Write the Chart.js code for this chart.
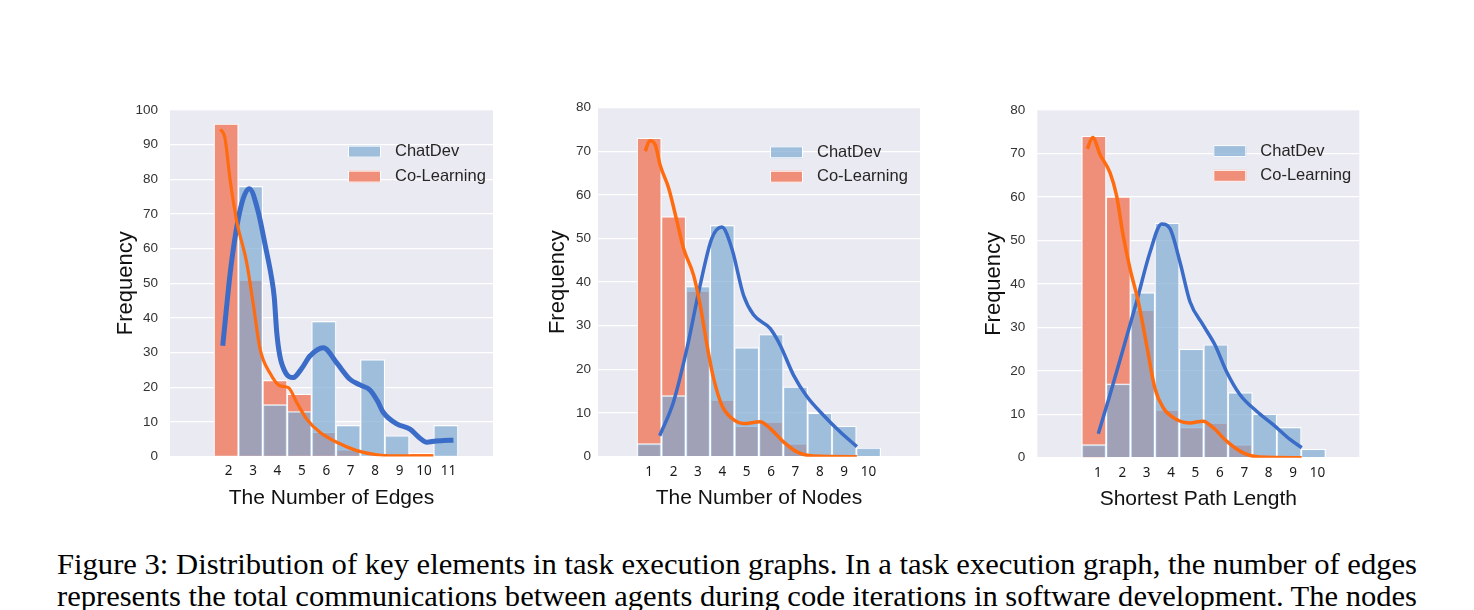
<!DOCTYPE html>
<html><head><meta charset="utf-8">
<script src="https://cdn.jsdelivr.net/npm/chart.js@4.4.0/dist/chart.umd.min.js"></script>
<style>
html,body{margin:0;padding:0;background:#fff;width:1474px;height:610px;overflow:hidden;position:relative;}
canvas{position:absolute;}
.cap{position:absolute;left:57px;font-family:'Liberation Serif','Times New Roman',serif;font-size:29px;line-height:29px;white-space:nowrap;color:#000;transform-origin:0 0;display:inline-block;}
</style></head><body>
<canvas id="c1" width="420" height="440" style="left:100px;top:90px;width:420px;height:440px"></canvas>
<canvas id="c2" width="420" height="440" style="left:530px;top:90px;width:420px;height:440px"></canvas>
<canvas id="c3" width="420" height="440" style="left:960px;top:90px;width:420px;height:440px"></canvas>
<div class="cap" id="cap1" style="top:550px">Figure 3: Distribution of key elements in task execution graphs. In a task execution graph, the number of edges</div>
<div class="cap" id="cap2" style="top:582px">represents the total communications between agents during code iterations in software development. The nodes</div>
<script>
// ---------------- DATA ----------------
const seriesNames = ['ChatDev', 'Co-Learning'];

// Panel 1: The Number of Edges
const edgesBins = [2, 3, 4, 5, 6, 7, 8, 9, 10, 11];
const edgesChatDev = [0, 78, 15, 13, 39, 9, 28, 6, 0, 9];
const edgesCoLearning = [96, 51, 22, 18, 7, 2, 0, 0, 1, 0];
const edgesChatDevKde = [[1.86,32],[2.2,55],[2.6,72],[2.95,77.3],[3.3,71],[3.6,61],[3.85,52],[3.97,46],[4.07,36],[4.2,29],[4.45,24],[4.75,22.8],[5.1,25.5],[5.43,29],[5.98,31.4],[6.53,27],[7.07,22.3],[7.5,20.6],[7.89,19.2],[8.2,16],[8.44,12.7],[8.99,9.4],[9.53,7.9],[9.9,5.5],[10.22,4.1],[10.6,4.5],[10.9,4.6],[11.31,4.7]];
const edgesCoLearningKde = [[1.77,94.5],[1.95,92],[2.16,80],[2.43,68],[2.84,56],[3.11,44],[3.39,31],[3.8,24],[4.2,20.4],[4.55,19.9],[4.89,15.6],[5.3,10.8],[5.84,7],[6.53,4.1],[7.35,1.7],[8.17,0.5],[8.99,0.2],[10.49,0.2]];

// Panel 2: The Number of Nodes
const nodesBins = [1, 2, 3, 4, 5, 6, 7, 8, 9, 10];
const nodesChatDev = [3, 14, 39, 53, 25, 28, 16, 10, 7, 2];
const nodesCoLearning = [73, 55, 38, 13, 7, 8, 3, 0, 0, 0];
const nodesChatDevKde = [[1.43,4.8],[2.0,12.6],[2.55,24.8],[3.09,39.3],[3.57,50],[3.98,52.6],[4.39,47.7],[4.87,37],[5.28,32.5],[5.96,29.4],[6.37,25.6],[6.92,18.7],[7.47,13.8],[8.15,9.5],[8.83,5.7],[9.52,2.3]];
const nodesCoLearningKde = [[0.84,70],[1.02,72.4],[1.25,71.4],[1.45,66.8],[1.8,61.5],[2.14,53.9],[2.41,47.7],[2.82,41.6],[3.09,34.8],[3.37,25.6],[3.64,18],[3.98,11.8],[4.39,8.8],[4.87,7.6],[5.55,8],[5.96,6.5],[6.51,3.4],[7.06,1.1],[7.74,0.15],[9.52,0]];

// Panel 3: Shortest Path Length
const pathBins = [1, 2, 3, 4, 5, 6, 7, 8, 9, 10];
const pathChatDev = [3, 17, 38, 54, 25, 26, 15, 10, 7, 2];
const pathCoLearning = [74, 60, 34, 11, 7, 8, 3, 0, 0, 0];
const pathChatDevKde = [[1.18,5.5],[1.66,14.5],[2.2,25],[2.75,35.9],[3.3,47.3],[3.78,53.8],[4.12,52.7],[4.53,45],[4.94,35.9],[5.48,30.5],[5.96,26],[6.44,19.8],[6.99,14.5],[7.67,10.7],[8.35,7.6],[9.04,4.2],[9.52,2.3]];
const pathCoLearningKde = [[0.73,71.1],[0.95,73.7],[1.25,69.8],[1.66,65.6],[1.93,60.3],[2.2,51.1],[2.48,43.5],[2.82,35.9],[3.16,26],[3.5,16],[3.84,11.5],[4.39,8.8],[4.94,8],[5.48,8.4],[5.89,6.9],[6.44,3.8],[7.12,1.1],[7.81,0.15],[9.52,0]];

const xTitles = ['The Number of Edges', 'The Number of Nodes', 'Shortest Path Length'];
const yTitle = 'Frequency';

// ---------------- STYLE ----------------
const BG = '#eaeaf2';
const CD_FILL = 'rgba(124,169,210,0.69)';
const CL_FILL = 'rgb(239,143,122)';
const CD_LINE = '#3b6cc7';
const CL_LINE = '#ff6b0f';

Chart.defaults.font.family = "'Liberation Sans', Arial, sans-serif";
Chart.defaults.animation = false;

const bgPlugin = {
  id: 'areaBg',
  beforeDraw(chart) {
    const {ctx, chartArea: a} = chart;
    ctx.save();
    ctx.fillStyle = BG;
    ctx.fillRect(a.left, a.top, a.right - a.left, a.bottom - a.top);
    ctx.restore();
  }
};

const legendPlugin = {
  id: 'innerLegend',
  afterDatasetsDraw(chart, args, opts) {
    const {ctx, chartArea: a} = chart;
    const bars = chart.data.datasets.filter(d => d.type === 'bar');
    ctx.save();
    bars.forEach((ds, i) => {
      const cy = a.top + opts.top + i * opts.gap;
      const bx = a.left + opts.left;
      ctx.fillStyle = ds.backgroundColor;
      ctx.fillRect(bx, cy - 6, 33, 12);
      ctx.strokeStyle = '#ffffff';
      ctx.lineWidth = 1;
      ctx.strokeRect(bx + 0.5, cy - 5.5, 32, 11);
      ctx.fillStyle = '#262626';
      ctx.font = "16.5px 'Liberation Sans', Arial, sans-serif";
      ctx.textBaseline = 'middle';
      ctx.textAlign = 'left';
      ctx.fillText(ds.label, bx + 47, cy);
    });
    ctx.restore();
  }
};

function pts(bins, vals) { return bins.map((b, i) => ({x: b, y: vals[i]})); }
function kde(arr) { return arr.map(p => ({x: p[0], y: p[1]})); }

function makeChart(id, p) {
  return new Chart(document.getElementById(id), {
    type: 'bar',
    data: {
      datasets: [
        {type: 'line', label: seriesNames[1] + ' KDE', data: kde(p.clKde), borderColor: CL_LINE, borderWidth: p.clW, pointRadius: 0, cubicInterpolationMode: 'monotone', fill: false, order: 0},
        {type: 'line', label: seriesNames[0] + ' KDE', data: kde(p.cdKde), borderColor: CD_LINE, borderWidth: p.cdW, pointRadius: 0, cubicInterpolationMode: 'monotone', fill: false, order: 1},
        {type: 'bar', label: seriesNames[0], data: pts(p.bins, p.cd), backgroundColor: CD_FILL, borderColor: 'rgba(255,255,255,0.95)', borderWidth: 1.2, grouped: false, barPercentage: 1, categoryPercentage: 1, order: 2},
        {type: 'bar', label: seriesNames[1], data: pts(p.bins, p.cl), backgroundColor: CL_FILL, borderColor: 'rgba(255,255,255,0.95)', borderWidth: 1.2, grouped: false, barPercentage: 1, categoryPercentage: 1, order: 3}
      ]
    },
    options: {
      responsive: false,
      animation: false,
      events: [],
      layout: {padding: p.pad},
      plugins: {legend: {display: false}, tooltip: {enabled: false}, innerLegend: p.legend},
      scales: {
        x: {
          type: 'linear', min: p.xMin, max: p.xMax, offset: false,
          afterBuildTicks: s => { s.ticks = p.bins.map(v => ({value: v})); },
          afterFit: s => { s.height = p.xH; },
          grid: {display: false, drawTicks: false},
          border: {display: false},
          ticks: {autoSkip: false, maxRotation: 0, padding: 7, labelOffset: p.labelOffset, color: '#1a1a1a',
                  font: {family: "'Noto Sans', 'Open Sans', sans-serif", size: 13.5},
                  callback: v => String(v)},
          title: {display: true, text: p.xTitle, color: '#111', font: {size: 21}, padding: 0}
        },
        y: {
          min: 0, max: p.yMax,
          afterFit: s => { s.width = p.yW; },
          grid: {color: '#ffffff', lineWidth: 1.3, drawTicks: false},
          border: {display: false},
          ticks: {stepSize: 10, padding: p.yPad, color: '#333', font: {size: 13.5}},
          title: {display: true, text: yTitle, color: '#111', font: {size: 22}, padding: 0}
        }
      }
    },
    plugins: [bgPlugin, legendPlugin]
  });
}

makeChart('c1', {bins: edgesBins, cd: edgesChatDev, cl: edgesCoLearning, cdKde: edgesChatDevKde, clKde: edgesCoLearningKde,
  xTitle: xTitles[0], yMax: 100, xMin: -0.3, xMax: 12.93, cdW: 5, clW: 3.2, labelOffset: 2.5,
  pad: {left: 12.8, top: 17.5, right: 27, bottom: 18.9}, yW: 57.2, xH: 54.6, yPad: 12,
  legend: {left: 178, top: 41.5, gap: 25}});
makeChart('c2', {bins: nodesBins, cd: nodesChatDev, cl: nodesCoLearning, cdKde: nodesChatDevKde, clKde: nodesCoLearningKde,
  xTitle: xTitles[1], yMax: 80, xMin: -1.1, xMax: 12.11, cdW: 3.5, clW: 3.5, labelOffset: 0,
  pad: {left: 14.5, top: 17.5, right: 30, bottom: 18.9}, yW: 53.5, xH: 54.4, yPad: 7,
  legend: {left: 172, top: 44.8, gap: 24.4}});
makeChart('c3', {bins: pathBins, cd: pathChatDev, cl: pathCoLearning, cdKde: pathChatDevKde, clKde: pathCoLearningKde,
  xTitle: xTitles[2], yMax: 80, xMin: -1.32, xMax: 11.88, cdW: 3.5, clW: 3.5, labelOffset: 4,
  pad: {left: 21, top: 18.3, right: 20.7, bottom: 18.5}, yW: 56.3, xH: 53.8, yPad: 12,
  legend: {left: 176, top: 41, gap: 24.7}});

// caption lines stretched to the justified width
['cap1', 'cap2'].forEach(id => {
  const el = document.getElementById(id);
  const w = el.getBoundingClientRect().width;
  el.style.transform = 'scaleX(' + (1360 / w) + ')';
});
</script>
</body></html>
